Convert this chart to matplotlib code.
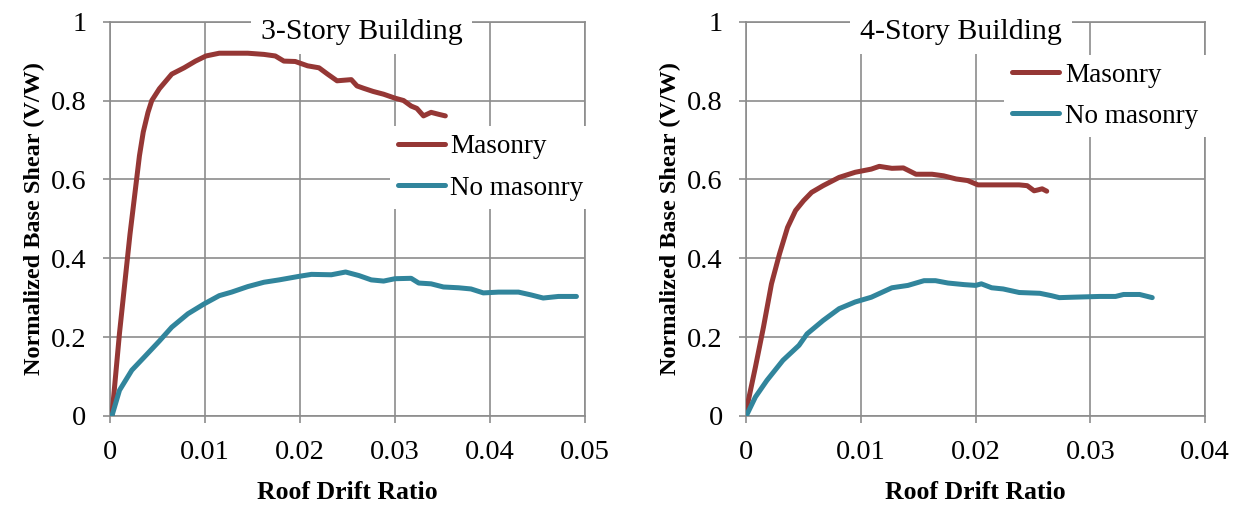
import numpy as np
import matplotlib.pyplot as plt

# === 3-Story data ===
x3_mas = [0.0002, 0.001, 0.0021, 0.0027, 0.0031, 0.0035, 0.004, 0.0044, 0.0052, 0.0065, 0.0078,
          0.009, 0.0101, 0.0115, 0.0145, 0.0162, 0.0174, 0.0183, 0.0195, 0.0208, 0.022,
          0.0229, 0.0239, 0.0254, 0.026, 0.0267, 0.0277, 0.0288, 0.030, 0.0309, 0.0317,
          0.0323, 0.033, 0.0338, 0.0346, 0.0353]
y3_mas = [0.0, 0.21, 0.46, 0.58, 0.66, 0.72, 0.77, 0.80, 0.83, 0.867, 0.883,
          0.90, 0.913, 0.92, 0.92, 0.917, 0.913, 0.90, 0.899, 0.888, 0.883,
          0.867, 0.85, 0.853, 0.837, 0.831, 0.823, 0.816, 0.806, 0.80, 0.786,
          0.78, 0.761, 0.77, 0.765, 0.761]

x3_nomas = [0.0002, 0.001, 0.0023, 0.0036, 0.0052, 0.0065, 0.0082, 0.0099, 0.0115, 0.0128,
            0.0145, 0.0162, 0.0178, 0.0199, 0.0212, 0.0233, 0.0248, 0.0262, 0.0275, 0.0288,
            0.030, 0.0317, 0.0325, 0.0338, 0.0351, 0.0367, 0.038, 0.0393, 0.0409, 0.043,
            0.0443, 0.0456, 0.0472, 0.0491]
y3_nomas = [0.0, 0.065, 0.116, 0.149, 0.19, 0.225, 0.259, 0.284, 0.305, 0.314,
            0.328, 0.339, 0.345, 0.354, 0.359, 0.358, 0.365, 0.356, 0.345, 0.342,
            0.348, 0.349, 0.337, 0.335, 0.327, 0.325, 0.322, 0.312, 0.314, 0.314,
            0.307, 0.299, 0.303, 0.303]

# === 4-Story data ===
x4_mas = [0.0, 0.0008, 0.0015, 0.0022, 0.0029, 0.0036, 0.0043, 0.005, 0.0057, 0.0067,
          0.0081, 0.0095, 0.0109, 0.0116, 0.0127, 0.0137, 0.0148, 0.0162, 0.0172, 0.0183,
          0.0193, 0.0202, 0.0214, 0.0238, 0.0245, 0.0251, 0.0254, 0.0258, 0.0262]
y4_mas = [0.014, 0.124, 0.225, 0.335, 0.411, 0.478, 0.521, 0.546, 0.567, 0.584,
          0.605, 0.618, 0.626, 0.633, 0.628, 0.629, 0.613, 0.613, 0.609, 0.601,
          0.597, 0.586, 0.586, 0.586, 0.584, 0.571, 0.573, 0.576, 0.570]

x4_nomas = [0.0, 0.0008, 0.0018, 0.0032, 0.0046, 0.0053, 0.0067, 0.0081, 0.0095, 0.0109,
            0.0127, 0.0141, 0.0155, 0.0165, 0.0176, 0.019, 0.02, 0.0205, 0.0214, 0.0224,
            0.0238, 0.0256, 0.0266, 0.0273, 0.0284, 0.0308, 0.0322, 0.0329, 0.0343, 0.0354]
y4_nomas = [0.0, 0.048, 0.09, 0.141, 0.179, 0.208, 0.242, 0.272, 0.289, 0.301,
            0.325, 0.331, 0.343, 0.343, 0.337, 0.333, 0.331, 0.335, 0.325, 0.322,
            0.313, 0.311, 0.305, 0.30, 0.301, 0.303, 0.303, 0.308, 0.308, 0.30]

titles = ["3-Story Building", "4-Story Building"]
labels = ["Masonry", "No masonry"]
RED = "#953735"
TEAL = "#31859C"
GRID = "#8c8c8c"

plt.rcParams['font.family'] = ['Liberation Serif', 'DejaVu Serif']

fig = plt.figure(figsize=(12.5, 5.16), dpi=100)
ax1 = fig.add_axes([0.088, 0.194, 0.38, 0.764])
ax2 = fig.add_axes([0.597, 0.194, 0.367, 0.764])

panels = [
    (ax1, x3_mas, y3_mas, x3_nomas, y3_nomas, 0.05, 0.53, (0.56, 0.63)),
    (ax2, x4_mas, y4_mas, x4_nomas, y4_nomas, 0.04, 0.468, (0.532, 0.812)),
]

for i, (ax, xm, ym, xn, yn, xmax, tx, leg_pos) in enumerate(panels):
    ax.plot(xm, ym, color=RED, lw=3.6, solid_capstyle='round', label=labels[0], zorder=3)
    ax.plot(xn, yn, color=TEAL, lw=3.6, solid_capstyle='round', label=labels[1], zorder=3)

    ax.set_xlim(0, xmax)
    ax.set_ylim(0, 1)
    ax.set_xticks(np.arange(0, xmax + 1e-9, 0.01))
    ax.set_xticklabels(["0"] + [f"{v:.2f}" for v in np.arange(0.01, xmax + 1e-9, 0.01)])
    ax.set_yticks(np.arange(0, 1.01, 0.2))
    ax.set_yticklabels(["0", "0.2", "0.4", "0.6", "0.8", "1"])
    ax.tick_params(labelsize=20.5, length=5, width=1.2, color=GRID, pad=12)

    ax.grid(True, color=GRID, lw=1.2)
    ax.set_axisbelow(True)
    for s in ax.spines.values():
        s.set_color(GRID)
        s.set_linewidth(1.2)
        s.set_zorder(1)

    ax.set_xlabel("Roof Drift Ratio", fontsize=18.5, fontweight='bold', labelpad=12)
    ax.set_ylabel("Normalized Base Shear (V/W)", fontsize=17.5, fontweight='bold', labelpad=4)

    # title sits in a white box over the grid, but under the curves
    ax.text(tx, 0.975, titles[i], transform=ax.transAxes, ha='center', va='center',
            fontsize=21.5, zorder=2,
            bbox=dict(facecolor='white', edgecolor='none', pad=7))

    ax.legend(loc='center left', bbox_to_anchor=leg_pos, fontsize=19.5, frameon=True,
              facecolor='white', edgecolor='none', framealpha=1, fancybox=False,
              handlelength=1.75, handletextpad=0.2, labelspacing=0.6, borderpad=0.3)

plt.savefig("out.png", dpi=100)
